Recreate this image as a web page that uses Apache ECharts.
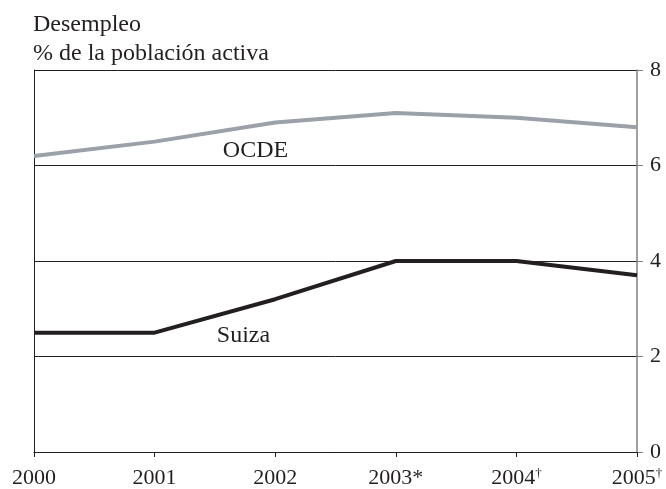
<!DOCTYPE html>
<html>
<head>
<meta charset="utf-8">
<script src="https://cdn.jsdelivr.net/npm/echarts@6/dist/echarts.min.js"></script>
<style>
html,body{margin:0;padding:0;background:#fff;}
#main{width:666px;height:489px;}
</style>
</head>
<body>
<div id="main"></div>
<script>
var years = ['2000', '2001', '2002', '2003*', '2004†', '2005†'];
var ocde = [6.2, 6.5, 6.9, 7.1, 7.0, 6.8];
var suiza = [2.5, 2.5, 3.2, 4.0, 4.0, 3.7];
var yTicks = [0, 2, 4, 6, 8];
var titleLines = ['Desempleo', '% de la población activa'];

var FONT = '"Liberation Serif", "Times New Roman", serif';
var TXT = '#231f20';

var chart = echarts.init(document.getElementById('main'), null, {renderer: 'canvas'});

function fmtX(v) {
  var m = v.match(/^(\d+)(.*)$/);
  if (m && m[2] === '†') return '{a|' + m[1] + '}{s|†}';
  return '{a|' + v + '}';
}

chart.setOption({
  animation: false,
  backgroundColor: '#fff',
  grid: {left: 34, right: 29, top: 70, bottom: 36, containLabel: false},
  graphic: [
    {type: 'text', x: 33, y: 25, style: {text: titleLines[0], font: '24px ' + FONT, fill: TXT, verticalAlign: 'middle'}},
    {type: 'text', x: 33, y: 54, style: {text: titleLines[1], font: '24px ' + FONT, fill: TXT, verticalAlign: 'middle'}},
    {type: 'text', x: 255.5, y: 150.5, style: {text: 'OCDE', font: '24px ' + FONT, fill: TXT, align: 'center', verticalAlign: 'middle'}},
    {type: 'text', x: 243.5, y: 336, style: {text: 'Suiza', font: '24px ' + FONT, fill: TXT, align: 'center', verticalAlign: 'middle'}}
  ],
  xAxis: {
    type: 'category',
    data: years,
    boundaryGap: false,
    axisLine: {show: true, lineStyle: {color: '#231f20', width: 1}},
    axisTick: {show: true, length: 5, inside: false, alignWithLabel: true, lineStyle: {color: '#231f20'}},
    axisLabel: {
      margin: 15,
      formatter: fmtX,
      rich: {
        a: {fontFamily: FONT, fontSize: 22, color: TXT},
        s: {fontFamily: FONT, fontSize: 13, color: TXT, verticalAlign: 'top', padding: [0, 0, 8, 0]}
      }
    },
    splitLine: {show: false}
  },
  yAxis: [{
    type: 'value',
    position: 'right',
    min: 0, max: 8, interval: 2,
    axisLine: {show: true, lineStyle: {color: '#808080', width: 1.5}},
    axisTick: {show: true, length: 6, inside: false, lineStyle: {color: '#808080'}},
    axisLabel: {margin: 13, fontFamily: FONT, fontSize: 22, color: TXT,
      formatter: function (v) { return yTicks.indexOf(v) >= 0 ? String(v) : ''; }},
    splitLine: {show: true, lineStyle: {color: '#231f20', width: 1}}
  }, {
    type: 'value',
    position: 'left',
    min: 0, max: 8, interval: 2,
    axisLine: {show: true, onZero: false, lineStyle: {color: '#231f20', width: 1}},
    axisTick: {show: false},
    axisLabel: {show: false},
    splitLine: {show: false}
  }],
  series: [
    {name: 'OCDE', type: 'line', data: ocde, yAxisIndex: 0, symbol: 'none',
      lineStyle: {color: '#9aa1a8', width: 4}, z: 3},
    {name: 'Suiza', type: 'line', data: suiza, yAxisIndex: 0, symbol: 'none',
      lineStyle: {color: '#231f20', width: 4}, z: 3}
  ]
});
</script>
</body>
</html>
